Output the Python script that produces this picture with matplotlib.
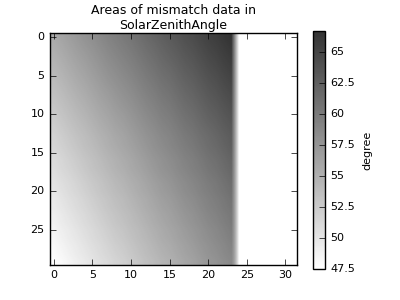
import numpy as np
import matplotlib
matplotlib.use('Agg')
import matplotlib.pyplot as plt

plt.style.use('classic')

# SolarZenithAngle (degree)
# left edge value for each row 0..29
row_left = [55.6, 55.3, 55.0, 54.7, 54.4, 54.1, 53.8, 53.5, 53.2, 52.9,
            52.6, 52.3, 52.0, 51.7, 51.5, 51.2, 50.9, 50.7, 50.4, 50.1,
            49.9, 49.6, 49.4, 49.1, 48.9, 48.6, 48.4, 48.1, 47.9, 47.6]
# top row value for each column 0..23 (columns 24..31 have no mismatch)
col_top = [55.6, 56.1, 56.6, 57.1, 57.6, 58.1, 58.6, 59.1, 59.6, 60.0,
           60.5, 61.0, 61.5, 62.0, 62.5, 62.9, 63.4, 63.9, 64.3, 64.8,
           65.3, 65.7, 66.2, 66.7]
n_cols = 32

grid = np.full((len(row_left), n_cols), np.nan)
grid[:, :len(col_top)] = np.array(col_top)[None, :] + (np.array(row_left)[:, None] - row_left[0])
grid = np.ma.masked_invalid(grid)

fig = plt.figure(figsize=(4, 3), dpi=100, facecolor='white')
ax = fig.add_axes([50/400, 35/300, 247/400, 232/300])
im = ax.imshow(grid, cmap='gray_r', alpha=0.8, interpolation='bilinear',
               interpolation_stage='rgba', aspect='equal')
ax.set_title('Areas of mismatch data in\nSolarZenithAngle', fontsize=9, pad=3)
ax.tick_params(labelsize=8)
ax.set_xticks([0, 5, 10, 15, 20, 25, 30])
ax.set_yticks([0, 5, 10, 15, 20, 25])

cax = fig.add_axes([313/400, 31/300, 12/400, 238/300])
cb = fig.colorbar(im, cax=cax)
cb.set_ticks([47.5, 50, 52.5, 55, 57.5, 60, 62.5, 65])
cb.set_ticklabels(['47.5', '50', '52.5', '55', '57.5', '60', '62.5', '65'])
cb.ax.tick_params(labelsize=8)
cb.set_label('degree', fontsize=8)

# label below the plot, mostly outside the figure as in the original
fig.text(172/400, -0.015, 'Number of Mismatch Points', ha='center', va='center', fontsize=8)

fig.savefig('out.png', dpi=100, facecolor='white')
